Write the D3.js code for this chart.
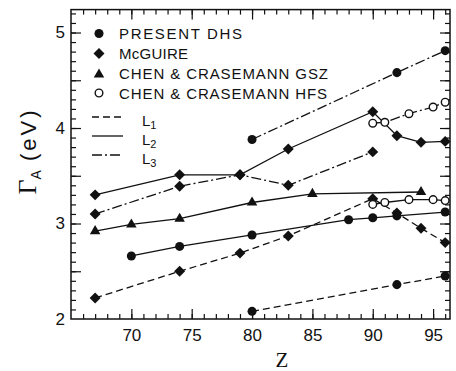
<!DOCTYPE html>
<html><head><meta charset="utf-8">
<script src="https://cdn.jsdelivr.net/npm/d3@7"></script>
<style>
html,body{margin:0;padding:0;background:#fff;}
svg{display:block;}
text{fill:#111;}
</style></head>
<body>
<svg id="chart" width="456" height="371"></svg>
<script>
// ---- data (Z, Gamma_A in eV) ----
const dhsL1 = [[80,2.08],[92,2.36],[96,2.45]];
const dhsL2 = [[70,2.66],[74,2.76],[80,2.88],[88,3.04],[90,3.06],[92,3.08],[96,3.12]];
const dhsL3 = [[80,3.88],[92,4.58],[96,4.81]];
const mcgL1 = [[67,2.22],[74,2.50],[79,2.69],[83,2.87],[90,3.26],[92,3.11],[94,2.95],[96,2.80]];
const mcgL2 = [[67,3.30],[74,3.51],[79,3.51],[83,3.78],[90,4.17],[92,3.92],[94,3.85],[96,3.86]];
const mcgL3 = [[67,3.10],[74,3.39],[79,3.51],[83,3.40],[90,3.75]];
const gszL2 = [[67,2.92],[70,2.99],[74,3.05],[80,3.22],[85,3.31],[94,3.33]];
const hfsL2 = [[90,3.20],[91,3.22],[93,3.25],[95,3.25],[96,3.24]];
const hfsL3 = [[90,4.05],[91,4.06],[93,4.15],[95,4.22],[96,4.27]];

const legendLabels = ["PRESENT  DHS","McGUIRE","CHEN & CRASEMANN GSZ","CHEN & CRASEMANN HFS"];
const legendMarkers = ["dot","diamond","triangle","open"];
const lineLabels = ["1","2","3"];
const lineStyles = ["L1","L2","L3"];
const xMajor = [70,75,80,85,90,95];
const yMajorLabels = [2,3,4,5];

const dash = {L1:"7,4", L2:null, L3:"10,3,2,3"};
const ink = "#111";

const svg = d3.select("#chart");
const x = d3.scaleLinear().domain([65, 96.4]).range([71, 450]);
const y = d3.scaleLinear().domain([2, 5.24]).range([319, 9.6]);

// frame
svg.append("rect").attr("x",71).attr("y",y(5.24)).attr("width",450-71).attr("height",319-y(5.24))
  .attr("fill","none").attr("stroke",ink).attr("stroke-width",1.5);

const xMinor = d3.range(66, 97, 1);
const yMinor = d3.range(2.1, 5.24, 0.1);
const yMajor = d3.range(2.5, 5.24, 0.5);

function styleAxis(g){
  g.select(".domain").remove();
  g.selectAll(".tick line").attr("stroke",ink).attr("stroke-width",1.2);
  g.selectAll("text").attr("font-family","'Liberation Sans', Arial, sans-serif").attr("font-size",17).attr("fill",ink);
}
// bottom
svg.append("g").attr("transform","translate(0,319)")
  .call(d3.axisBottom(x).tickValues(xMinor).tickSize(-5).tickFormat("")).call(styleAxis);
svg.append("g").attr("transform","translate(0,319)")
  .call(d3.axisBottom(x).tickValues(xMajor).tickSize(-10).tickPadding(10).tickFormat(d3.format("d"))).call(styleAxis);
// top
svg.append("g").attr("transform",`translate(0,${y(5.24)})`)
  .call(d3.axisTop(x).tickValues(xMinor).tickSize(-5).tickFormat("")).call(styleAxis);
svg.append("g").attr("transform",`translate(0,${y(5.24)})`)
  .call(d3.axisTop(x).tickValues(xMajor).tickSize(-10).tickFormat("")).call(styleAxis);
// left
svg.append("g").attr("transform","translate(71,0)")
  .call(d3.axisLeft(y).tickValues(yMinor).tickSize(-5).tickFormat("")).call(styleAxis);
svg.append("g").attr("transform","translate(71,0)")
  .call(d3.axisLeft(y).tickValues(yMajor).tickSize(-10).tickFormat("")).call(styleAxis);
svg.append("g").attr("transform","translate(71,0)")
  .call(d3.axisLeft(y).tickValues(yMajorLabels).tickSize(0).tickPadding(6).tickFormat(d3.format("d"))).call(styleAxis);
// right
svg.append("g").attr("transform","translate(450,0)")
  .call(d3.axisRight(y).tickValues(yMinor).tickSize(-5).tickFormat("")).call(styleAxis);
svg.append("g").attr("transform","translate(450,0)")
  .call(d3.axisRight(y).tickValues(yMajor).tickSize(-10).tickFormat("")).call(styleAxis);

// axis titles
svg.append("text").attr("x",282).attr("y",367).attr("text-anchor","middle")
  .attr("font-family","'Liberation Serif','Times New Roman',serif").attr("font-size",21).text("Z");
const yl = svg.append("text").attr("transform","translate(36,151) rotate(-90)").attr("text-anchor","middle");
yl.append("tspan").attr("font-family","'Liberation Serif','Times New Roman',serif").attr("font-size",26).text("Γ");
yl.append("tspan").attr("font-family","'Liberation Sans',Arial,sans-serif").attr("font-size",14).attr("dy",5).text("A");
yl.append("tspan").attr("font-family","'Liberation Sans',Arial,sans-serif").attr("font-size",22).attr("dy",-5).attr("letter-spacing",3).text(" (eV)");

// markers
const sym = {
  dot: d3.symbol().type(d3.symbolCircle).size(64),
  diamond: d3.symbol().type(d3.symbolSquare).size(60),
  triangle: d3.symbol().type(d3.symbolTriangle).size(48),
  open: d3.symbol().type(d3.symbolCircle).size(46)
};
function marker(g, type, px, py){
  const p = g.append("path").attr("d", sym[type]()).attr("transform",
    `translate(${px},${py})` + (type==="diamond" ? " rotate(45)" : ""));
  if(type==="open") p.attr("fill","#fff").attr("stroke",ink).attr("stroke-width",1.4);
  else p.attr("fill",ink);
}

const line = d3.line().x(d=>x(d[0])).y(d=>y(d[1]));
const series = [
  {data:dhsL1, style:"L1", m:"dot"},
  {data:dhsL2, style:"L2", m:"dot"},
  {data:dhsL3, style:"L3", m:"dot"},
  {data:mcgL1, style:"L1", m:"diamond"},
  {data:mcgL2, style:"L2", m:"diamond"},
  {data:mcgL3, style:"L3", m:"diamond"},
  {data:gszL2, style:"L2", m:"triangle"},
  {data:hfsL2, style:"L2", m:"open"},
  {data:hfsL3, style:"L3", m:"open"}
];
const gl = svg.append("g");
series.forEach(s=>{
  gl.append("path").attr("d", line(s.data)).attr("fill","none").attr("stroke",ink)
    .attr("stroke-width",1.3).attr("stroke-dasharray", dash[s.style]);
});
const gm = svg.append("g");
series.forEach(s=>{
  s.data.forEach(d=>marker(gm, s.m, x(d[0]), y(d[1])));
});

// legend
const legY = [33.5, 53.5, 73.5, 93];
const legLen = [123, 69, 209, 208];
const lg = svg.append("g");
legendLabels.forEach((t,i)=>{
  marker(lg, legendMarkers[i], 99, legY[i] + (legendMarkers[i]==="triangle"?1:0));
  lg.append("text").attr("x",119).attr("y",legY[i]+5.8)
    .attr("font-family","'Liberation Sans',Arial,sans-serif").attr("font-size",15)
    .attr("textLength",legLen[i]).attr("lengthAdjust","spacing").text(t);
});
const lineY = [117, 136, 155];
lineStyles.forEach((st,i)=>{
  lg.append("line").attr("x1",92).attr("x2",123).attr("y1",lineY[i]).attr("y2",lineY[i])
    .attr("stroke",ink).attr("stroke-width",1.3).attr("stroke-dasharray",dash[st]);
  const t = lg.append("text").attr("x",142).attr("y",lineY[i]+9)
    .attr("font-family","'Liberation Sans',Arial,sans-serif").attr("font-size",15);
  t.append("tspan").text("L");
  t.append("tspan").attr("font-size",11).attr("dy",3).text(lineLabels[i]);
});
</script>
</body></html>
